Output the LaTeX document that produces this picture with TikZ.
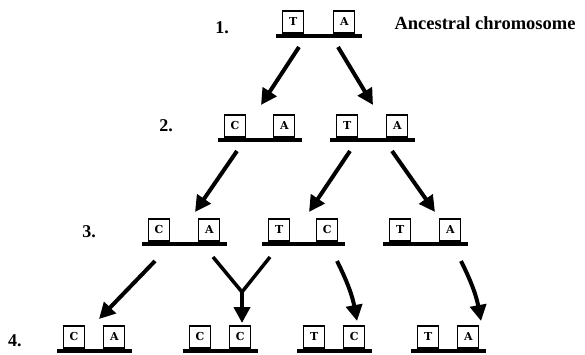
\documentclass[tikz,border=0pt]{standalone}
\usepackage{fontspec}
\setmainfont{Liberation Serif}
\newfontfamily\genefont{DejaVu Serif}
\usetikzlibrary{arrows.meta}
\newcommand\chromo[6]{%
  \node[chrbar, minimum width=#3pt, anchor=west] (#1) at (#2,#4) {};
  \node[genebox, anchor=south west] (#1L) at ([xshift=6pt]#1.north west) {#5};
  \node[genebox, anchor=south east] (#1R) at ([xshift=-7pt]#1.north east) {#6};
}
\begin{document}
\begin{tikzpicture}[x=1pt,y=-1pt,
  chrbar/.style={fill=black, inner sep=0pt, minimum height=4.5pt},
  genebox/.style={draw, line width=1.2pt, fill=white, minimum width=21pt, minimum height=22pt, inner sep=0pt, font=\genefont\bfseries\fontsize{11}{11}\selectfont},
  lvl/.style={font=\bfseries\fontsize{18}{18}\selectfont},
  evo/.style={line width=4pt, -{Triangle[length=16pt,width=16pt]}},
  evoline/.style={line width=3.5pt}]
\useasboundingbox (0,0) rectangle (585,355);
% level 1
\chromo{a}{276}{86}{36}{T}{A}
\node[lvl] (l1) at (222,28) {1.};
\node[font=\bfseries\fontsize{18.5}{18.5}\selectfont, anchor=base west] (anc) at (391,30) {Ancestral chromosome};
% level 2
\chromo{b}{218}{84}{140}{C}{A}
\chromo{c}{330}{85}{140}{T}{A}
\node[lvl] (l2) at (166,126) {2.};
% level 3
\chromo{d}{142}{85}{244}{C}{A}
\chromo{e}{262}{83}{244}{T}{C}
\chromo{f}{383}{85}{244}{T}{A}
\node[lvl] (l3) at (89,232) {3.};
% level 4
\chromo{g}{57}{75}{351}{C}{A}
\chromo{h}{183}{75}{351}{C}{C}
\chromo{i}{297}{75}{351}{T}{C}
\chromo{j}{411}{75}{351}{T}{A}
\node[lvl] (l4) at (15,341) {4.};
% start points just below the parent chromosomes
\coordinate (s1) at (299,47);
\coordinate (s2) at (338,47);
\coordinate (s3) at (237,151);
\coordinate (s4) at (350,151);
\coordinate (s5) at (392,151);
\coordinate (s6) at (155,261);
\coordinate (s7) at (213,257);
\coordinate (s8) at (270,257);
\coordinate (s9) at (337,261);
\coordinate (s10) at (461,261);
\coordinate (m) at (242,292);
% tips
\coordinate (t1) at (261,105);
\coordinate (t2) at (373,105);
\coordinate (t3) at (195,212);
\coordinate (t4) at (309,212);
\coordinate (t5) at (435,212);
\coordinate (t6) at (99,319);
\coordinate (t7) at (242,323);
\coordinate (t8) at (357,321);
\coordinate (t9) at (481,321);
\draw[evo] (s1) -- (t1);
\draw[evo] (s2) -- (t2);
\draw[evo] (s3) -- (t3);
\draw[evo] (s4) -- (t4);
\draw[evo] (s5) -- (t5);
\draw[evo] (s6) -- (t6);
\draw[evoline] (s7) -- (m) -- (s8);
\draw[evo] (m) -- (t7);
\draw[evo] (s9) to[bend left=8] (t8);
\draw[evo] (s10) to[bend left=8] (t9);
\end{tikzpicture}
\end{document}
